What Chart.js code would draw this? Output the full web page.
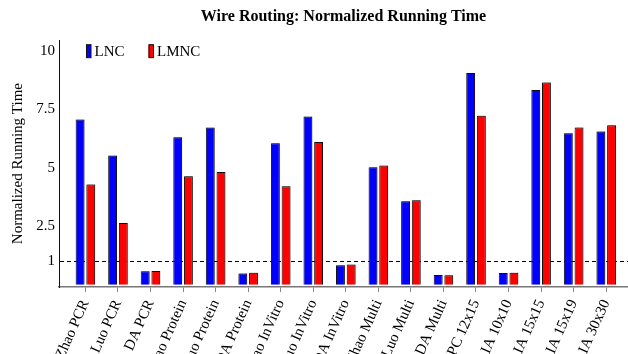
<!DOCTYPE html>
<html>
<head>
<meta charset="utf-8">
<script src="https://cdn.jsdelivr.net/npm/chart.js@4/dist/chart.umd.min.js"></script>
<style>
  html, body { margin: 0; padding: 0; background: #fff; overflow: hidden; }
  #wrap { width: 628px; height: 354px; }
</style>
</head>
<body>
<div id="wrap"><canvas id="c" width="628" height="354"></canvas></div>
<script>
const categories = [
  "Zhao PCR", "Luo PCR", "DA PCR",
  "Zhao Protein", "Luo Protein", "DA Protein",
  "Zhao InVitro", "Luo InVitro", "DA InVitro",
  "Zhao Multi", "Luo Multi", "DA Multi",
  "FPPC 12x15", "IA 10x10", "IA 15x15", "IA 15x19", "IA 30x30"
];
const lncValues  = [7.07, 5.53, 0.57, 6.31, 6.73, 0.48, 6.06, 7.20, 0.83, 5.03, 3.57, 0.41, 9.06, 0.50, 8.34, 6.49, 6.56];
const lmncValues = [4.29, 2.64, 0.58, 4.64, 4.82, 0.51, 4.21, 6.11, 0.86, 5.10, 3.61, 0.40, 7.23, 0.51, 8.66, 6.73, 6.83];
const yTickValues = [1, 2.5, 5, 7.5, 10];
const baselineValue = 1;
const seriesNames = ["LNC", "LMNC"];
const seriesColors = ["#0000ff", "#ff0000"];

const serif = "'Liberation Serif', 'DejaVu Serif', serif";

const shadowPlugin = {
  id: 'barShadow',
  beforeDatasetsDraw(chart) {
    const ctx = chart.ctx;
    ctx.save();
    ctx.shadowColor = 'rgba(0,0,0,0.28)';
    ctx.shadowOffsetX = 1;
    ctx.shadowOffsetY = -1;
    ctx.shadowBlur = 0.5;
  },
  afterDatasetsDraw(chart) {
    chart.ctx.restore();
  }
};

const legendPlugin = {
  id: 'insideLegend',
  afterDraw(chart) {
    const ctx = chart.ctx;
    const area = chart.chartArea;
    ctx.save();
    ctx.font = "15px " + serif;
    ctx.textBaseline = 'middle';
    ctx.textAlign = 'left';
    let x = area.left + 27;
    const yMid = chart.scales.y.getPixelForValue(10);
    chart.data.datasets.forEach((ds) => {
      ctx.fillStyle = ds.backgroundColor;
      ctx.fillRect(x, yMid - 6.5, 5, 13);
      ctx.strokeStyle = '#111';
      ctx.lineWidth = 1;
      ctx.strokeRect(x + 0.5, yMid - 6.5, 4.5, 13);
      ctx.fillStyle = '#000';
      ctx.fillText(ds.label, x + 8.5, yMid + 1);
      x += 8.5 + ctx.measureText(ds.label).width + 24;
    });
    ctx.restore();
  }
};

new Chart(document.getElementById('c'), {
  type: 'bar',
  data: {
    datasets: [
      {
        label: seriesNames[0],
        data: lncValues.map((v, i) => ({ x: i, y: v })),
        backgroundColor: seriesColors[0],
        borderColor: '#111',
        borderWidth: 1
      },
      {
        label: seriesNames[1],
        data: lmncValues.map((v, i) => ({ x: i, y: v })),
        backgroundColor: seriesColors[1],
        borderColor: '#111',
        borderWidth: 1
      }
    ]
  },
  options: {
    responsive: false,
    animation: false,
    categoryPercentage: 0.657,
    barPercentage: 0.83,
    layout: { padding: 0 },
    plugins: {
      legend: { display: false },
      tooltip: { enabled: false },
      title: {
        display: true,
        fullSize: false,
        text: 'Wire Routing: Normalized Running Time',
        color: '#000',
        font: { family: serif, size: 16, weight: 'bold' },
        padding: { top: 7, bottom: 14 }
      }
    },
    scales: {
      x: {
        type: 'linear',
        min: -0.811,
        max: 16.67,
        offset: false,
        afterBuildTicks(scale) {
          scale.ticks = categories.map((_, i) => ({ value: i }));
        },
        afterFit(scale) { scale.height = 67; },
        ticks: {
          autoSkip: false,
          minRotation: 66,
          maxRotation: 66,
          padding: 5,
          color: '#000',
          font: { family: serif, size: 15 },
          callback: (v) => categories[v]
        },
        grid: {
          offset: false,
          drawOnChartArea: false,
          drawTicks: true,
          tickLength: 5,
          tickColor: '#888',
          tickWidth: 1
        },
        border: { display: true, color: '#777', width: 1.5 }
      },
      y: {
        min: -0.1,
        max: 10.47,
        afterBuildTicks(scale) {
          scale.ticks = yTickValues.map(v => ({ value: v }));
        },
        afterFit(scale) { scale.width = 59; },
        ticks: {
          color: '#000',
          padding: 4,
          font: { family: serif, size: 15 },
          callback: (v) => String(v)
        },
        grid: {
          drawTicks: false,
          lineWidth: 1,
          color: (ctx) => (ctx.tick && ctx.tick.value === baselineValue) ? '#000' : 'rgba(0,0,0,0)'
        },
        border: { display: true, color: '#111', width: 1, dash: [4, 3] },
        title: {
          display: true,
          text: 'Normalized Running Time',
          color: '#000',
          font: { family: serif, size: 15 },
          padding: { top: 9, bottom: 0 }
        }
      }
    }
  },
  plugins: [shadowPlugin, legendPlugin]
});
</script>
</body>
</html>
